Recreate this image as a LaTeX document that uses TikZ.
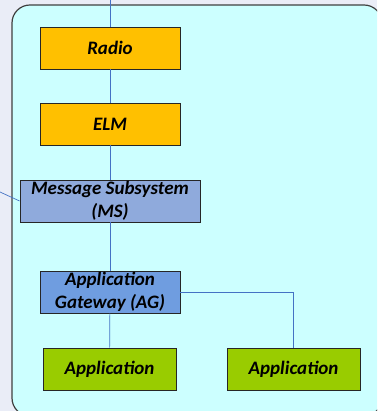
\documentclass[tikz,border=0pt]{standalone}
\usepackage{fontspec}
\setmainfont{Carlito}
\definecolor{bgcol}{HTML}{EAEDF7}
\definecolor{domcol}{HTML}{CCFFFF}
\definecolor{orangecol}{HTML}{FFC000}
\definecolor{mscol}{HTML}{8FAADC}
\definecolor{agcol}{HTML}{6F9DE0}
\definecolor{appcol}{HTML}{99CC00}
\definecolor{linkcol}{HTML}{4472C4}
\begin{document}
\begin{tikzpicture}
    [x=1pt, y=-1pt,
     box/.style={draw=black!85, line width=0.8pt, inner sep=0pt,
       minimum height=42pt, align=center,
       font=\fontsize{19}{23.5}\selectfont\bfseries\itshape},
     link/.style={draw=linkcol, line width=0.7pt}]

    \fill [bgcol] (0, 0) rectangle (377, 411);
    \useasboundingbox (0, 0) rectangle (377, 411);
    \begin{scope}
      \clip (0, 0) rectangle (377, 411);
      \draw [fill=domcol, draw=black!75, line width=1.2pt, rounded corners=18pt]
        (12, 5) rectangle (382, 416);
    \end{scope}

    \node [box, fill=orangecol, minimum width=140pt] at (110, 48)  (radio) {Radio};
    \node [box, fill=orangecol, minimum width=140pt] at (110, 124) (elm) {ELM};
    \node [box, fill=mscol, minimum width=180pt] at (110, 201) (ms) {Message Subsystem\\(MS)};
    \node [box, fill=agcol, minimum width=140pt] at (110, 292) (ag) {Application\\Gateway (AG)};

    \node [box, fill=appcol, minimum width=133pt] at (109.5, 369) (app1) {Application};
    \node [box, fill=appcol, minimum width=133pt] at (293.5, 369) (app2) {Application};

    \coordinate (top) at (110, 0);
    \coordinate (left) at (0, 192);

    \draw [link] (top) -- (radio);
    \draw [link] (radio) -- (elm);
    \draw [link] (elm) -- (ms);
    \draw [link] (ms) -- (ag);
    \draw [link] (ag) -- (app1);
    \draw [link] (left) -- (ms.west);

    \draw [link] (ag.east) -| (app2.north);

  \end{tikzpicture}
\end{document}
